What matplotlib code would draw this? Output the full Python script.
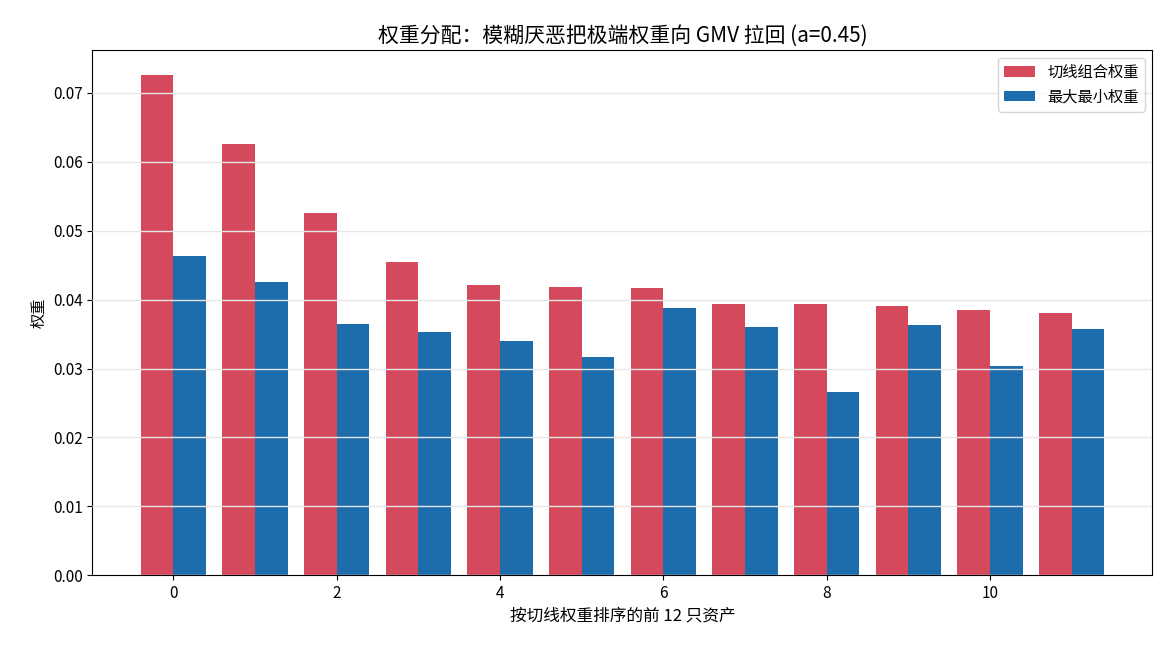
import numpy as np
import matplotlib
matplotlib.use("Agg")
import matplotlib.pyplot as plt

plt.rcParams['font.family'] = ['Noto Sans CJK SC', 'DejaVu Sans']
plt.rcParams['axes.unicode_minus'] = False

# 按切线权重排序的前 12 只资产
asset_rank = np.arange(12)
tangent_w = [0.0726, 0.0626, 0.0526, 0.0454, 0.0422, 0.0419,
             0.0417, 0.0394, 0.0393, 0.0391, 0.0385, 0.0381]
maxmin_w = [0.0464, 0.0426, 0.0365, 0.0353, 0.0340, 0.0317,
            0.0388, 0.0361, 0.0266, 0.0363, 0.0304, 0.0358]

red = '#d44a5c'
blue = '#1d6cab'
width = 0.4

fig, ax = plt.subplots(figsize=(11.7, 6.5), dpi=100)
ax.bar(asset_rank - width / 2, tangent_w, width, color=red, label='切线组合权重')
ax.bar(asset_rank + width / 2, maxmin_w, width, color=blue, label='最大最小权重')

ax.set_title('权重分配：模糊厌恶把极端权重向 GMV 拉回 (a=0.45)', fontsize=15)
ax.set_xlabel('按切线权重排序的前 12 只资产', fontsize=12)
ax.set_ylabel('权重', fontsize=11)
ax.tick_params(labelsize=11)
ax.grid(axis='y', color='#e6e6e6', linewidth=1)
ax.set_axisbelow(False)
ax.legend(loc='upper right', fontsize=11)

plt.subplots_adjust(left=0.079, right=0.985, top=0.923, bottom=0.115)
plt.savefig('out.png', dpi=100)
